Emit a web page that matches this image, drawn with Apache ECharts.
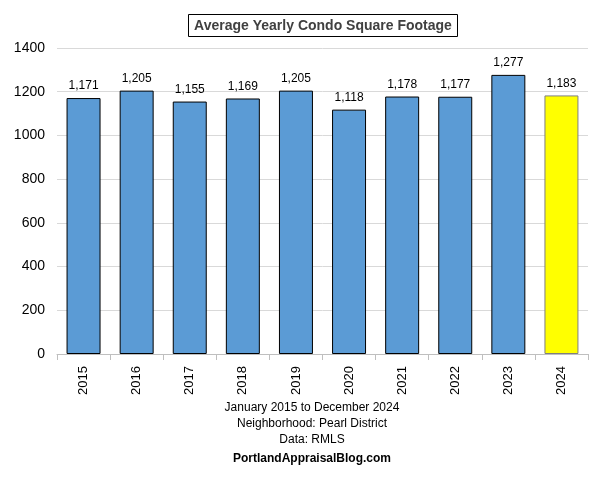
<!DOCTYPE html>
<html><head><meta charset="utf-8">
<script src="https://cdn.jsdelivr.net/npm/echarts@6/dist/echarts.min.js"></script>
<style>html,body{margin:0;padding:0;background:#fff}#c{width:598px;height:480px}</style>
</head><body><div id="c"></div>
<script>
var years = ['2015','2016','2017','2018','2019','2020','2021','2022','2023','2024'];
var sqft = [1171,1205,1155,1169,1205,1118,1178,1177,1277,1183];
var yTicks = [0,200,400,600,800,1000,1200,1400];
var footerLines = ['January 2015 to December 2024','Neighborhood: Pearl District','Data: RMLS'];
var footerSite = 'PortlandAppraisalBlog.com';
var titleText = 'Average Yearly Condo Square Footage';

var chart = echarts.init(document.getElementById('c'));
var font = '"Liberation Sans", Arial, sans-serif';
var barData = sqft.map(function(v,i){
  var last = i === sqft.length-1;
  return {value:v, itemStyle:{color: last ? '#FFFF00' : '#5B9BD5', borderColor: last ? '#7F7F7F' : '#000', borderWidth:1}};
});
var g = [];
var ys = [402,418,434];
footerLines.forEach(function(t,i){
  g.push({type:'text', x:312, y:ys[i], style:{text:t, font:'12px '+font, fill:'#000', textAlign:'center'}});
});
g.push({type:'text', x:312, y:453, style:{text:footerSite, font:'bold 12px '+font, fill:'#000', textAlign:'center'}});

chart.setOption({
  animation:false,
  title:{text:titleText, left:317, textAlign:'center', top:14,
    textStyle:{fontFamily:font, fontSize:14, fontWeight:'bold', color:'#404040'},
    borderColor:'#000', borderWidth:1, padding:[5,6,4,6]},
  grid:{left:57, right:10, top:48, bottom:126},
  xAxis:{type:'category', data:years,
    axisLine:{lineStyle:{color:'#BFBFBF'}},
    axisTick:{show:true, alignWithLabel:false, length:6, lineStyle:{color:'#BFBFBF'}},
    axisLabel:{rotate:90, fontFamily:font, fontSize:13, color:'#000', margin:12}},
  yAxis:{type:'value', min:yTicks[0], max:yTicks[yTicks.length-1], interval:200,
    axisLine:{show:false}, axisTick:{show:false},
    axisLabel:{fontFamily:font, fontSize:14, color:'#000', margin:12, formatter:function(v){return String(v);}},
    splitLine:{lineStyle:{color:'#D9D9D9'}}},
  series:[{type:'bar', data:barData, barCategoryGap:'36%',
    label:{show:true, position:'top', distance:6, fontFamily:font, fontSize:12, color:'#000',
      formatter:function(p){return p.value.toLocaleString('en-US');}}}],
  graphic:g
});
</script></body></html>
